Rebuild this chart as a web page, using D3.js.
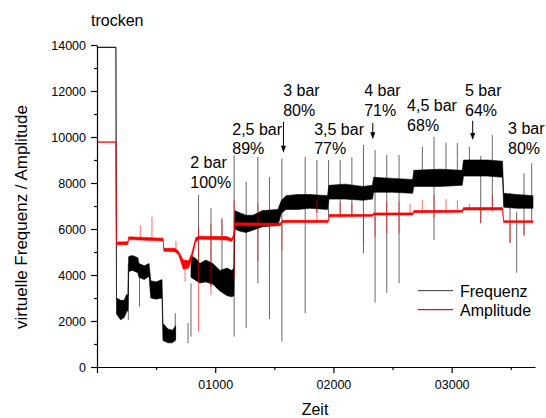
<!DOCTYPE html>
<html>
<head>
<meta charset="utf-8">
<script src="https://cdn.jsdelivr.net/npm/d3@7"></script>
<style>
  html, body { margin: 0; padding: 0; background: #fff; }
  svg text { font-family: "Liberation Sans", Arial, sans-serif; fill: #000; }
</style>
</head>
<body>
<svg id="chart" width="546" height="418"></svg>
<script>
// Frequenz: noise band (lower / upper envelope) over time; null marks a gap
const freqTime = [0, 160, 165, 200, 230, 250, 262, 268, 300, 345, 355, 400, 440, 455, 500, 550, 558, 600, 640, 665, 672,
  795, 840, 870, 920, 980, 1040, 1100, 1140, 1158, 1166, 1210, 1260, 1320, 1400, 1530, 1560, 1600, 1700, 1800, 1950,
  1962, 2100, 2250, 2330, 2340, 2500, 2670, 2680, 2900, 3090, 3100, 3300, 3430, 3440, 3550, 3688];
const freqLow = [13890, 13890, 2300, 2050, 2150, 2400, 2450, 4150, 4200, 4100, 3900, 3800, 3950, 3000, 2950, 3000, 1150, 1050, 1050, 1200, null,
  3900, 3750, 3650, 3700, 3600, 3300, 3100, 3050, 3100, 6000, 5900, 5850, 5950, 6100, 6150, 6700, 6850, 6850, 6900, 6850,
  7300, 7300, 7250, 7300, 7600, 7600, 7550, 7850, 7850, 7900, 8300, 8300, 8250, 6950, 6900, 6900];
const freqHigh = [13910, 13910, 3000, 2900, 2900, 3150, 3100, 4800, 4850, 4750, 4500, 4400, 4500, 3750, 3700, 3800, 1900, 1650, 1600, 1800, null,
  4850, 4700, 4500, 4650, 4500, 4200, 4300, 4200, 4300, 6800, 6700, 6600, 6600, 6800, 6850, 7250, 7450, 7500, 7500, 7450,
  7900, 7950, 7850, 7900, 8250, 8200, 8150, 8550, 8600, 8550, 9000, 9000, 8950, 7550, 7500, 7450];

// Frequenz: short spikes (time, one end, other end)
const freqSpikeTime = [265, 360, 662, 770, 795, 859, 964, 1057, 1160, 1262, 1361, 1459, 1564, 1761, 1860, 1958, 2057, 2156,
  2254, 2352, 2451, 2555, 2752, 2851, 2952, 3048, 3150, 3246, 3344, 3494, 3550, 3612, 3677];
const freqSpikeA = [4500, 4400, 2340, 1910, 3640, 7480, 6910, 6480, 9200, 8060, 9140, 8250, 9070, 9140, 9000, 9000, 9000, 9120,
  9650, 9430, 9220, 9220, 9580, 10010, 9750, 9730, 9580, 9170, 10090, 7560, 6750, 8420, 8860];
const freqSpikeB = [2040, 2620, 1100, 1040, 1320, 3900, 3480, 3900, 1320, 1690, 3640, 2090, 1100, 2340, 6700, 6530, 6530, 6530,
  4940, 2800, 3230, 3640, 7900, 5520, 7900, 8000, 8300, 6250, 6750, 5390, 4100, 5740, 6390];

// Amplitude: noise band over time
const ampTime = [0, 160, 165, 260, 268, 560, 565, 660, 690, 730, 775, 800, 835, 860, 1100, 1140, 1158, 1166, 1550, 1570,
  1955, 1965, 2330, 2340, 2670, 2680, 3090, 3100, 3430, 3440, 3688];
const ampLow = [9770, 9770, 5320, 5320, 5540, 5480, 5030, 5010, 4880, 4250, 4300, 4680, 5430, 5560, 5520, 5460, 5640, 6140, 6140, 6280,
  6280, 6530, 6550, 6610, 6610, 6710, 6730, 6830, 6830, 6280, 6280];
const ampHigh = [9790, 9790, 5430, 5450, 5660, 5600, 5160, 5160, 5030, 4650, 4620, 4920, 5620, 5690, 5670, 5580, 5780, 6270, 6250, 6380,
  6380, 6630, 6630, 6700, 6700, 6800, 6810, 6930, 6930, 6360, 6360];

// Amplitude: short spikes
const ampSpikeTime = [366, 465, 668, 745, 859, 964, 1057, 1160, 1361, 1459, 1564, 1860, 2057, 2156, 2254, 2352, 2451, 2555,
  2648, 2752, 2851, 2952, 3048, 3150, 3246, 3344, 3494, 3612];
const ampSpikeA = [6170, 6535, 5480, 4500, 6100, 6250, 6400, 7260, 7130, 6200, 6200, 7260, 7130, 7130, 6550, 6650, 7190, 7190,
  7100, 7260, 7480, 7300, 7250, 7100, 6900, 7480, 6300, 6300];
const ampSpikeB = [5550, 5550, 5000, 3710, 1540, 3130, 5600, 3780, 4580, 5390, 5090, 6300, 6500, 6500, 5390, 5670, 5810, 5810,
  6600, 6700, 6500, 6700, 6700, 6800, 6250, 6850, 5390, 5670];

// Pressure / efficiency notes
const noteLine1 = ["2 bar", "2,5 bar", "3 bar", "3,5 bar", "4 bar", "4,5 bar", "5 bar", "3 bar"];
const noteLine2 = ["100%", "89%", "80%", "77%", "71%", "68%", "64%", "80%"];
const noteTime = [789, 1144, 1575, 1837, 2260, 2623, 3113, 3477];
const noteValue = [8650, 10090, 11780, 10090, 11780, 11110, 11780, 10130];

// Arrows marking the switching points
const arrowTime = [1577, 2333, 3178];
const arrowFrom = [10665, 10609, 10709];
const arrowTo = [9318, 9900, 9870];

const xMajorTicks = [0, 1000, 2000, 3000];
const xMinorTicks = [500, 1500, 2500, 3500];
const yMajorTicks = [0, 2000, 4000, 6000, 8000, 10000, 12000, 14000];
const yMinorTicks = [1000, 3000, 5000, 7000, 9000, 11000, 13000];

// Legend entries
const seriesNames = ["Frequenz", "Amplitude"];
const seriesColors = ["#555555", "#ff0000"];

const svg = d3.select("#chart");
const x = d3.scaleLinear().domain([0, 3705]).range([97, 535]);
const y = d3.scaleLinear().domain([0, 14000]).range([367, 45]);

function band(times, lo, hi) {
  return times.map((t, i) => ({ t, lo: lo[i], hi: hi[i] }));
}
const area = d3.area()
  .defined(d => d.lo != null)
  .x(d => x(d.t)).y0(d => y(d.lo)).y1(d => y(d.hi));

function spikes(times, a, b) {
  return times.map((t, i) => ({ t, a: a[i], b: b[i] }));
}

const plot = svg.append("g");

// Frequenz
plot.append("g").selectAll("line")
  .data(spikes(freqSpikeTime, freqSpikeA, freqSpikeB)).join("line")
  .attr("x1", d => x(d.t)).attr("x2", d => x(d.t))
  .attr("y1", d => y(d.a)).attr("y2", d => y(d.b))
  .attr("stroke", "#000").attr("stroke-opacity", 0.6).attr("stroke-width", 1);
plot.append("path")
  .datum(band(freqTime, freqLow, freqHigh))
  .attr("d", area)
  .attr("fill", "#000").attr("stroke", "#000").attr("stroke-width", 0.6);

// Amplitude
plot.append("g").selectAll("line")
  .data(spikes(ampSpikeTime, ampSpikeA, ampSpikeB)).join("line")
  .attr("x1", d => x(d.t)).attr("x2", d => x(d.t))
  .attr("y1", d => y(d.a)).attr("y2", d => y(d.b))
  .attr("stroke", "#ff0000").attr("stroke-opacity", 0.6).attr("stroke-width", 1);
plot.append("path")
  .datum(band(ampTime, ampLow, ampHigh))
  .attr("d", area)
  .attr("fill", "#ff0000").attr("stroke", "#ff0000").attr("stroke-width", 0.6);

// Axes
const fmtX = d3.format("05d");
svg.append("g").attr("transform", "translate(0,367)")
  .call(d3.axisBottom(x).tickValues(xMajorTicks).tickSize(6).tickSizeOuter(0).tickPadding(7)
    .tickFormat(d => d === 0 ? "" : fmtX(d)));
svg.append("g").attr("transform", "translate(0,367)")
  .call(d3.axisBottom(x).tickValues(xMinorTicks).tickSize(3).tickSizeOuter(0).tickFormat(""))
  .select(".domain").remove();
svg.append("g").attr("transform", "translate(97,0)")
  .call(d3.axisLeft(y).tickValues(yMajorTicks).tickSize(6).tickSizeOuter(0).tickPadding(5)
    .tickFormat(d3.format("d")));
svg.append("g").attr("transform", "translate(97,0)")
  .call(d3.axisLeft(y).tickValues(yMinorTicks).tickSize(3).tickSizeOuter(0).tickFormat(""))
  .select(".domain").remove();
svg.selectAll(".domain").attr("stroke", "#000").attr("stroke-width", 1.2);
svg.selectAll(".tick line").attr("stroke", "#000").attr("stroke-width", 1.2);
svg.selectAll(".tick text").style("font-size", "12.5px").attr("fill", "#222");

// Axis titles
svg.append("text").attr("x", 315).attr("y", 415).attr("text-anchor", "middle")
  .style("font-size", "16px").text("Zeit");
svg.append("text").attr("transform", "translate(27,217) rotate(-90)").attr("text-anchor", "middle")
  .style("font-size", "17px").text("virtuelle Frequenz / Amplitude");

// Top label
svg.append("text").attr("x", 91).attr("y", 26).style("font-size", "16px").text("trocken");

// Notes
const notes = svg.append("g").selectAll("text")
  .data(noteLine1.map((l, i) => ({ l1: l, l2: noteLine2[i], t: noteTime[i], v: noteValue[i] })))
  .join("text")
  .attr("x", d => x(d.t)).attr("y", d => y(d.v))
  .style("font-size", "16px");
notes.append("tspan").text(d => d.l1);
notes.append("tspan").attr("x", d => x(d.t)).attr("dy", 19.5).text(d => d.l2);

// Arrows
const arrows = svg.append("g").selectAll("g")
  .data(arrowTime.map((t, i) => ({ t, from: arrowFrom[i], to: arrowTo[i] })))
  .join("g");
arrows.append("line")
  .attr("x1", d => x(d.t)).attr("x2", d => x(d.t))
  .attr("y1", d => y(d.from)).attr("y2", d => y(d.to) - 5)
  .attr("stroke", "#000").attr("stroke-width", 1);
arrows.append("path")
  .attr("d", d => {
    const px = x(d.t), py = y(d.to);
    return `M${px - 2.5},${py - 7}L${px + 2.5},${py - 7}L${px},${py}Z`;
  })
  .attr("fill", "#000");

// Legend
const legend = svg.append("g").attr("class", "legend");
seriesNames.forEach((name, i) => {
  const ly = 290 + i * 19;
  legend.append("rect").attr("x", 418).attr("y", ly).attr("width", 35).attr("height", 1.2)
    .attr("fill", seriesColors[i]);
  legend.append("text").attr("x", 460).attr("y", ly + 7).style("font-size", "16px").text(name);
});
</script>
</body>
</html>
